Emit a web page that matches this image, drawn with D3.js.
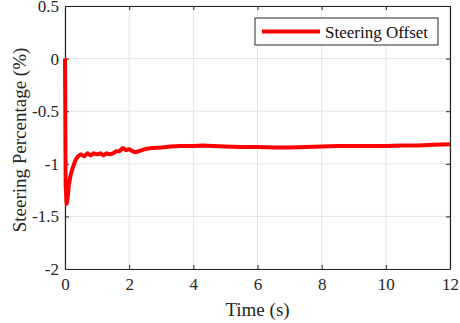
<!DOCTYPE html>
<html>
<head>
<meta charset="utf-8">
<script src="https://cdn.jsdelivr.net/npm/d3@7"></script>
<style>
  body { margin: 0; background: #fff; }
</style>
</head>
<body>
<svg id="chart" width="460" height="323" font-family="'Liberation Serif', 'Times New Roman', serif"></svg>
<script>
// steering offset trace
const timeValues = [0, 0.02, 0.05, 0.08, 0.12, 0.18, 0.25, 0.32, 0.4, 0.5, 0.6, 0.7, 0.8, 0.9, 1.0, 1.1, 1.2, 1.3, 1.4, 1.5, 1.6, 1.7, 1.8, 1.9, 2.0, 2.1, 2.2, 2.3, 2.5, 2.7, 3.0, 3.3, 3.6, 4.0, 4.3, 4.6, 5.0, 5.5, 6.0, 6.5, 7.0, 7.5, 8.0, 8.5, 9.0, 9.5, 10.0, 10.5, 11.0, 11.5, 12.0];
const offsetValues = [0, -1.2, -1.38, -1.33, -1.2, -1.1, -1.03, -0.97, -0.93, -0.91, -0.93, -0.9, -0.92, -0.9, -0.91, -0.9, -0.92, -0.9, -0.91, -0.9, -0.88, -0.88, -0.85, -0.87, -0.86, -0.88, -0.89, -0.88, -0.86, -0.85, -0.845, -0.835, -0.83, -0.83, -0.825, -0.83, -0.835, -0.84, -0.84, -0.845, -0.845, -0.84, -0.835, -0.83, -0.83, -0.83, -0.83, -0.825, -0.825, -0.82, -0.815];
const xTicks = [0, 2, 4, 6, 8, 10, 12];
const yTicks = [0.5, 0, -0.5, -1, -1.5, -2];
const legendLabel = "Steering Offset";

const serif = "'Liberation Serif', 'Times New Roman', serif";
const svg = d3.select("#chart");
const margins = { left: 65, right: 10, top: 6, bottom: 54 };
const width = 460, height = 323;

const xScale = d3.scaleLinear().domain([0, 12]).range([margins.left, width - margins.right]);
const yScale = d3.scaleLinear().domain([-2, 0.5]).range([height - margins.bottom, margins.top]);

const axisColor = "#262626";
const gridColor = "#e3e3e3";

// grid
svg.append("g")
    .selectAll("line.vgrid")
    .data(xTicks)
    .enter()
    .append("line")
    .attr("x1", (d) => xScale(d))
    .attr("x2", (d) => xScale(d))
    .attr("y1", yScale(-2))
    .attr("y2", yScale(0.5))
    .attr("stroke", gridColor)
    .attr("stroke-width", 1);

svg.append("g")
    .selectAll("line.hgrid")
    .data(yTicks)
    .enter()
    .append("line")
    .attr("x1", xScale(0))
    .attr("x2", xScale(12))
    .attr("y1", (d) => yScale(d))
    .attr("y2", (d) => yScale(d))
    .attr("stroke", gridColor)
    .attr("stroke-width", 1);

// axes
const axes = [];
axes.push(svg.append("g")
    .attr("transform", `translate(0,${yScale(-2)})`)
    .call(d3.axisBottom(xScale).tickValues(xTicks).tickSizeInner(-4).tickSizeOuter(0).tickPadding(9).tickFormat((d) => String(d))));
axes.push(svg.append("g")
    .attr("transform", `translate(${xScale(0)},0)`)
    .call(d3.axisLeft(yScale).tickValues(yTicks).tickSizeInner(-4).tickSizeOuter(0).tickPadding(6).tickFormat((d) => String(d))));

// top and right mirrored ticks
axes.push(svg.append("g")
    .attr("transform", `translate(0,${yScale(0.5)})`)
    .call(d3.axisTop(xScale).tickValues(xTicks).tickSizeInner(-4).tickSizeOuter(0).tickFormat("")));
axes.push(svg.append("g")
    .attr("transform", `translate(${xScale(12)},0)`)
    .call(d3.axisRight(yScale).tickValues(yTicks).tickSizeInner(-4).tickSizeOuter(0).tickFormat("")));

axes.forEach((g) => g.attr("font-family", serif).attr("font-size", 17));

svg.selectAll(".domain").attr("stroke", axisColor).attr("stroke-width", 1.2);
svg.selectAll(".tick line").attr("stroke", axisColor);
svg.selectAll(".tick text")
    .attr("font-family", serif)
    .attr("font-size", 17)
    .attr("fill", "#262626");

// the trace
const line = d3.line()
    .x((d, i) => xScale(timeValues[i]))
    .y((d) => yScale(d));

svg.append("path")
    .datum(offsetValues)
    .attr("fill", "none")
    .attr("stroke", "#ff0000")
    .attr("stroke-width", 4)
    .attr("stroke-linejoin", "round")
    .attr("d", line);

// labels
svg.append("text")
    .attr("x", (xScale(0) + xScale(12)) / 2)
    .attr("y", height - 7)
    .attr("text-anchor", "middle")
    .attr("font-family", serif)
    .attr("font-size", 19)
    .attr("fill", "#262626")
    .text("Time (s)");

svg.append("text")
    .attr("transform", `translate(26,140) rotate(-90)`)
    .attr("text-anchor", "middle")
    .attr("font-family", serif)
    .attr("font-size", 19)
    .attr("fill", "#262626")
    .text("Steering Percentage (%)");

// legend
const legend = svg.append("g").attr("transform", "translate(255,18)");
legend.append("rect")
    .attr("width", 183)
    .attr("height", 27)
    .attr("fill", "#fff")
    .attr("stroke", axisColor)
    .attr("stroke-width", 1);
legend.append("line")
    .attr("x1", 7)
    .attr("x2", 65)
    .attr("y1", 13.5)
    .attr("y2", 13.5)
    .attr("stroke", "#ff0000")
    .attr("stroke-width", 4);
legend.append("text")
    .attr("x", 70)
    .attr("y", 19.5)
    .attr("font-family", serif)
    .attr("font-size", 17)
    .attr("fill", "#111")
    .text(legendLabel);
</script>
</body>
</html>
